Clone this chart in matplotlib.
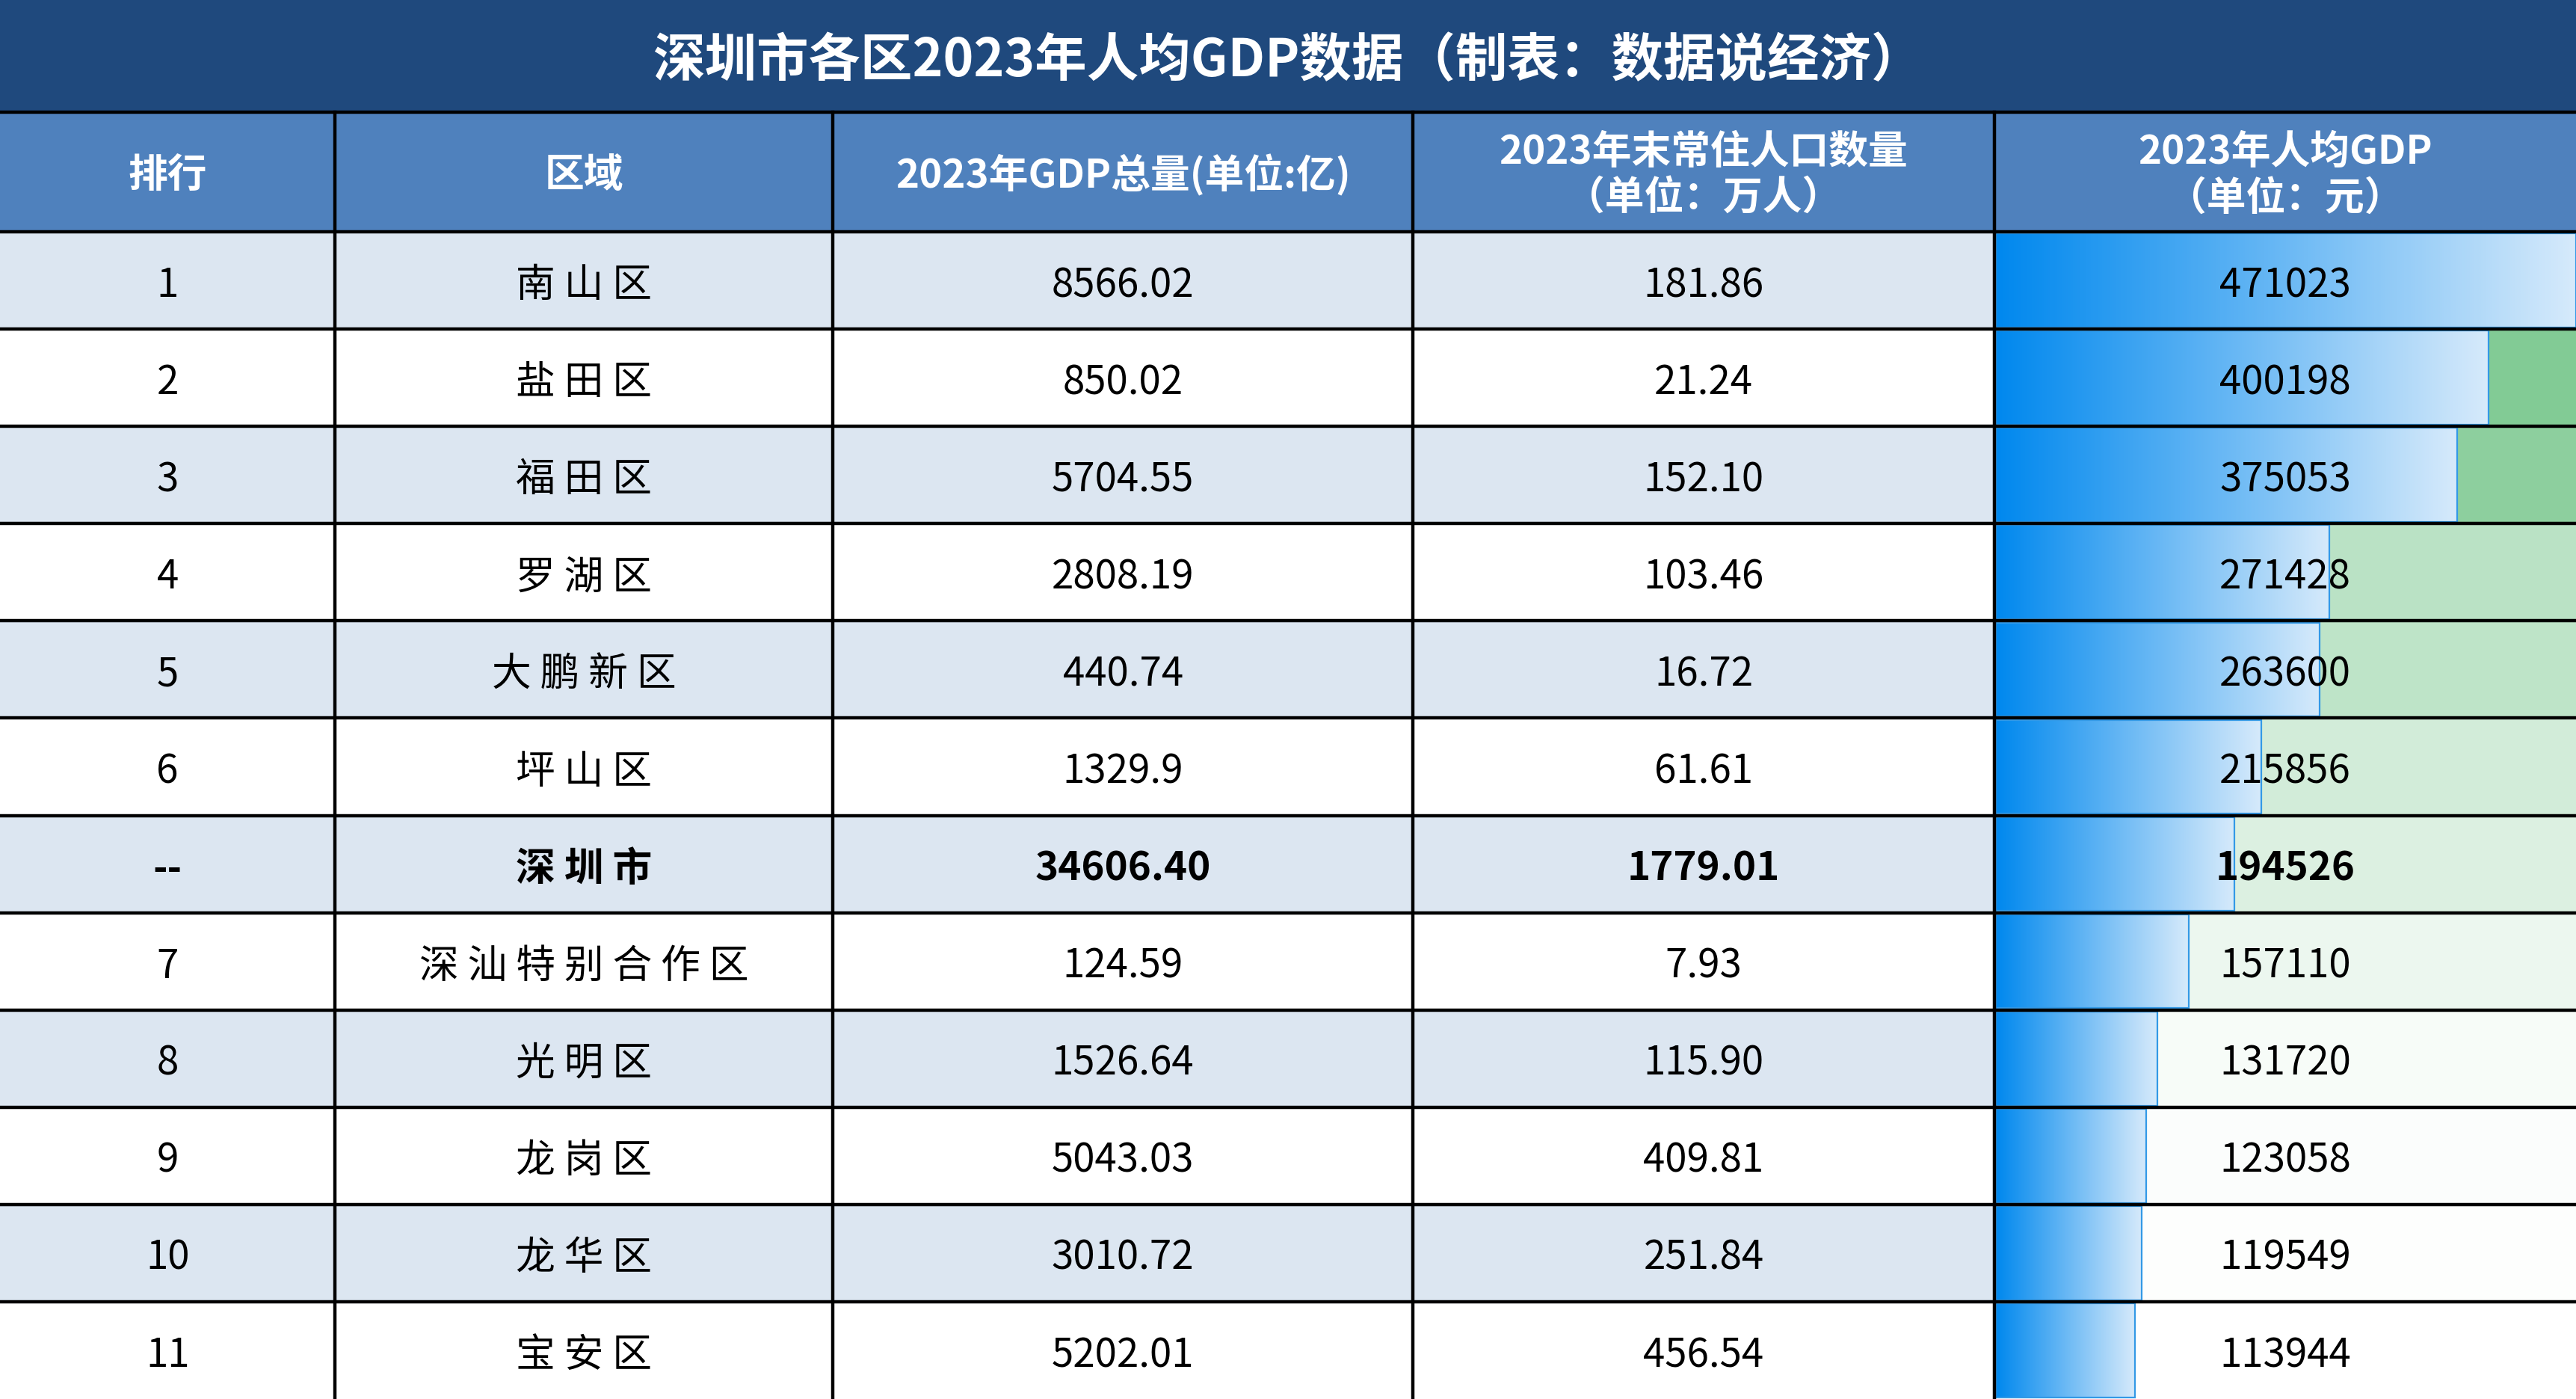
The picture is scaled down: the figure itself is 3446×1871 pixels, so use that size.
import numpy as np
import matplotlib.pyplot as plt
from matplotlib.patches import Rectangle
from matplotlib.colors import LinearSegmentedColormap

plt.rcParams['font.family'] = ['Noto Sans CJK SC', 'DejaVu Sans']

title = "深圳市各区2023年人均GDP数据（制表：数据说经济）"
headers = ["排行", "区域", "2023年GDP总量(单位:亿)", "2023年末常住人口数量\n（单位：万人）", "2023年人均GDP\n（单位：元）"]
ranks = ["1", "2", "3", "4", "5", "6", "--", "7", "8", "9", "10", "11"]
regions = ["南山区", "盐田区", "福田区", "罗湖区", "大鹏新区", "坪山区", "深圳市",
           "深汕特别合作区", "光明区", "龙岗区", "龙华区", "宝安区"]
gdp = ["8566.02", "850.02", "5704.55", "2808.19", "440.74", "1329.9", "34606.40",
       "124.59", "1526.64", "5043.03", "3010.72", "5202.01"]
pop = ["181.86", "21.24", "152.10", "103.46", "16.72", "61.61", "1779.01",
       "7.93", "115.90", "409.81", "251.84", "456.54"]
per_capita = [471023, 400198, 375053, 271428, 263600, 215856, 194526,
              157110, 131720, 123058, 119549, 113944]

W, H = 3446, 1871
col_x = [0, 204, 507, 860, 1214, 1568]
title_h, head_h = 68, 141
row_h = (851 - head_h) / len(ranks)

fig = plt.figure(figsize=(W / 200, H / 200), dpi=200)
ax = fig.add_axes([0, 0, 1, 1])
ax.set_xlim(0, 1568)
ax.set_ylim(851, 0)
ax.axis('off')

# title and header bands
ax.add_patch(Rectangle((0, 0), 1568, title_h, color='#1F497D'))
ax.text(784, title_h / 2 + 3, title, color='white', fontsize=25, fontweight='bold', ha='center', va='center')
ax.add_patch(Rectangle((0, title_h), 1568, head_h - title_h, color='#4F81BD'))
for i, h in enumerate(headers):
    ax.text((col_x[i] + col_x[i + 1]) / 2, (title_h + head_h) / 2 + 2, h, color='white',
            fontsize=19, fontweight='bold', ha='center', va='center', linespacing=1.2)

vmin, vmax = min(per_capita), max(per_capita)
lo = np.array([1.0, 1.0, 1.0])
hi = np.array([99, 190, 123]) / 255
grad = LinearSegmentedColormap.from_list('bar', ['#0088EE', '#D6EAFB'])
gimg = np.linspace(0, 1, 256).reshape(1, -1)

for r in range(len(ranks)):
    y0 = head_h + r * row_h
    fill = '#DCE6F1' if r % 2 == 0 else 'white'
    ax.add_patch(Rectangle((0, y0), col_x[4], row_h, color=fill))
    t = (per_capita[r] - vmin) / (vmax - vmin)
    ax.add_patch(Rectangle((col_x[4], y0), col_x[5] - col_x[4], row_h, color=lo + t * (hi - lo)))
    bw = (col_x[5] - col_x[4]) * per_capita[r] / vmax
    ax.imshow(gimg, cmap=grad, aspect='auto', extent=(col_x[4] + 1, col_x[4] + bw, y0 + row_h - 1, y0 + 1), zorder=2)
    ax.add_patch(Rectangle((col_x[4] + 1, y0 + 1), bw - 1, row_h - 2, fill=False, ec='#3399E6', lw=0.8, zorder=3))
    bold = 'bold' if ranks[r] == '--' else 'normal'
    vals = [ranks[r], regions[r], gdp[r], pop[r], str(per_capita[r])]
    for i, v in enumerate(vals):
        ax.text((col_x[i] + col_x[i + 1]) / 2, y0 + row_h / 2 + 3, ' '.join(v) if i == 1 else v,
                fontsize=19, ha='center', va='center', fontweight=bold, zorder=4)

# grid lines
for y in [title_h, head_h] + [head_h + r * row_h for r in range(1, len(ranks))]:
    ax.plot([0, 1568], [y, y], color='black', lw=1.6, zorder=5)
for x in col_x[1:-1]:
    ax.plot([x, x], [title_h, 851], color='black', lw=1.6, zorder=5)

fig.savefig('out.png', dpi=200)
